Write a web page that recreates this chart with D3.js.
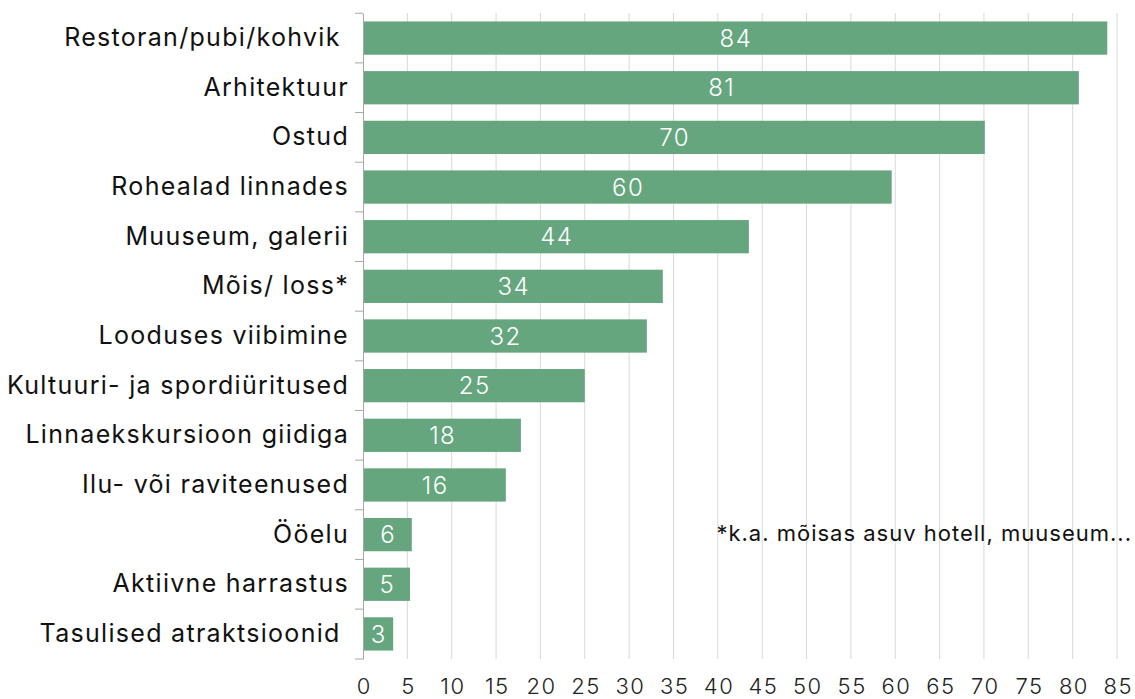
<!DOCTYPE html>
<html>
<head>
<meta charset="utf-8">
<script src="https://cdn.jsdelivr.net/npm/d3@7"></script>
<style>
  body { margin: 0; background: #fff; }
  svg text { font-family: Inter, "Open Sans", sans-serif; white-space: pre; }
</style>
</head>
<body>
<div id="chart"></div>
<script>
// categories top to bottom
const categories = [
  "Restoran/pubi/kohvik ",
  "Arhitektuur",
  "Ostud",
  "Rohealad linnades",
  "Muuseum, galerii",
  "Mõis/ loss*",
  "Looduses viibimine",
  "Kultuuri- ja spordiüritused",
  "Linnaekskursioon giidiga",
  "Ilu- või raviteenused",
  "Ööelu",
  "Aktiivne harrastus",
  "Tasulised atraktsioonid "
];
// bar lengths
const values = [83.9, 80.7, 70.1, 59.6, 43.5, 33.8, 32.0, 25.0, 17.8, 16.1, 5.5, 5.3, 3.4];
const xTicks = d3.range(0, 90, 5);
const footnote = "*k.a. mõisas asuv hotell, muuseum...";

const width = 1135, height = 699;
const margin = { top: 13, right: 18, bottom: 40, left: 363 };

const svg = d3.select("#chart").append("svg")
  .attr("width", width)
  .attr("height", height);

const x = d3.scaleLinear().domain([0, 85]).range([margin.left, width - margin.right]);
const y = d3.scaleBand().domain(categories)
  .range([margin.top, height - margin.bottom])
  .paddingInner(0.33).paddingOuter(0.17);

// gridlines
svg.append("g")
  .selectAll("line")
  .data(xTicks.slice(1))
  .join("line")
  .attr("x1", d => x(d)).attr("x2", d => x(d))
  .attr("y1", margin.top).attr("y2", height - margin.bottom)
  .attr("stroke", "#d9d9d9").attr("stroke-width", 1);

// bars
svg.append("g")
  .selectAll("rect")
  .data(values)
  .join("rect")
  .attr("x", x(0))
  .attr("y", (d, i) => y(categories[i]))
  .attr("width", d => x(d) - x(0))
  .attr("height", y.bandwidth())
  .attr("fill", "#65a67f");

// value labels
svg.append("g")
  .selectAll("text")
  .data(values)
  .join("text")
  .attr("x", d => (x(0) + x(d)) / 2 + 0.8)
  .attr("y", (d, i) => y(categories[i]) + y.bandwidth() / 2)
  .attr("dy", "0.36em")
  .attr("text-anchor", "middle")
  .attr("fill", "#fff")
  .attr("font-size", 24)
  .attr("font-weight", 300)
  .attr("letter-spacing", 1.5)
  .text(d => Math.round(d));

// y axis
const yAxis = svg.append("g")
  .attr("transform", `translate(${x(0)},0)`)
  .call(d3.axisLeft(y).tickSize(0).tickPadding(14));
yAxis.select(".domain").attr("stroke", "#a6a6a6");
yAxis.selectAll("text")
  .attr("font-size", 25)
  .attr("letter-spacing", 1.3)
  .attr("fill", "#111");

// small ticks between categories
const bounds = categories.map(c => y(c) - y.step() * y.paddingInner() / 2).concat([height - margin.bottom]);
svg.append("g")
  .selectAll("line")
  .data(bounds)
  .join("line")
  .attr("x1", x(0) - 8).attr("x2", x(0))
  .attr("y1", d => d).attr("y2", d => d)
  .attr("stroke", "#a6a6a6");

// x axis labels
const xAxis = svg.append("g")
  .attr("transform", `translate(0,${height - margin.bottom})`)
  .call(d3.axisBottom(x).tickValues(xTicks).tickSize(0).tickPadding(19));
xAxis.select(".domain").remove();
xAxis.selectAll("text")
  .attr("font-size", 22)
  .attr("font-weight", 300)
  .attr("letter-spacing", 1.5)
  .attr("dx", 0.75)
  .attr("fill", "#222");

// footnote
svg.append("text")
  .attr("x", 1132)
  .attr("y", 533)
  .attr("dy", "0.36em")
  .attr("text-anchor", "end")
  .attr("font-size", 22)
  .attr("letter-spacing", 1)
  .attr("fill", "#111")
  .text(footnote);
</script>
</body>
</html>
